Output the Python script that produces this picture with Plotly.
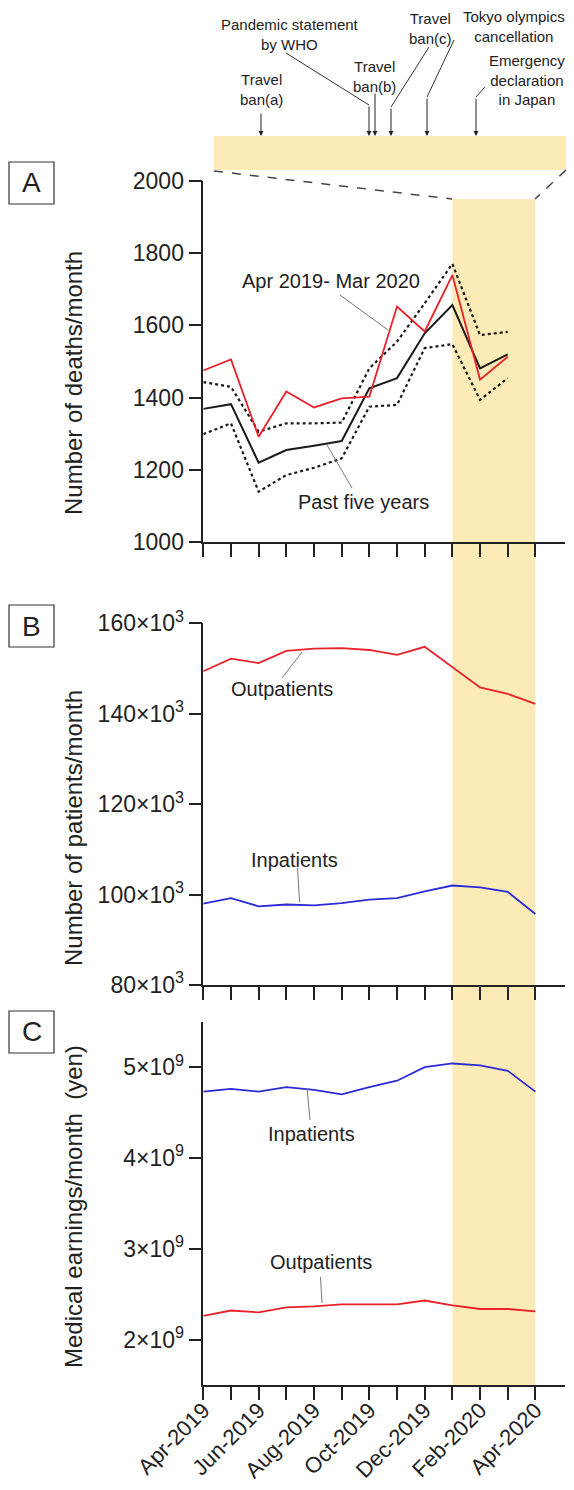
import plotly.graph_objects as go

# ---------------- data ----------------
months = ["Apr-2019", "May-2019", "Jun-2019", "Jul-2019", "Aug-2019", "Sep-2019",
          "Oct-2019", "Nov-2019", "Dec-2019", "Jan-2020", "Feb-2020", "Mar-2020", "Apr-2020"]
month_ticktext = [m if i % 2 == 0 else "" for i, m in enumerate(months)]
death_months = months[:12]

deaths_2019 = [1475, 1506, 1292, 1417, 1373, 1398, 1403, 1652, 1583, 1739, 1450, 1513]
past5_mean = [1369, 1382, 1220, 1255, 1267, 1280, 1426, 1454, 1578, 1656, 1481, 1520]
past5_upper = [1443, 1430, 1306, 1329, 1329, 1331, 1481, 1555, 1661, 1770, 1573, 1582]
past5_lower = [1299, 1329, 1140, 1186, 1206, 1232, 1375, 1380, 1537, 1548, 1394, 1454]

outpatients = [149.4e3, 152.2e3, 151.2e3, 153.9e3, 154.4e3, 154.5e3, 154.1e3,
               153.0e3, 154.8e3, 150.2e3, 145.8e3, 144.4e3, 142.2e3]
inpatients = [98.0e3, 99.2e3, 97.4e3, 97.8e3, 97.6e3, 98.1e3, 98.9e3,
              99.2e3, 100.7e3, 102.0e3, 101.6e3, 100.6e3, 95.7e3]

earn_in = [4.73e9, 4.76e9, 4.73e9, 4.78e9, 4.75e9, 4.70e9, 4.78e9,
           4.85e9, 5.00e9, 5.04e9, 5.02e9, 4.96e9, 4.73e9]
earn_out = [2.26e9, 2.32e9, 2.30e9, 2.355e9, 2.366e9, 2.388e9, 2.388e9,
            2.388e9, 2.43e9, 2.377e9, 2.337e9, 2.337e9, 2.311e9]

deaths_ticks = [1000, 1200, 1400, 1600, 1800, 2000]
pat_ticks = [80e3, 100e3, 120e3, 140e3, 160e3]
pat_ticktext = ["80×10<sup>3</sup>", "100×10<sup>3</sup>", "120×10<sup>3</sup>",
                "140×10<sup>3</sup>", "160×10<sup>3</sup>"]
earn_ticks = [2e9, 3e9, 4e9, 5e9]
earn_ticktext = ["2×10<sup>9</sup>", "3×10<sup>9</sup>", "4×10<sup>9</sup>", "5×10<sup>9</sup>"]

shade_start, shade_end = "Jan-2020", "Apr-2020"

# ---------------- layout helpers ----------------
PAGE_OFF = 8            # default body margin of the html page
W, H = 574 - 2 * PAGE_OFF, 1490 - 2 * PAGE_OFF
FONT = "Liberation Sans, Arial, Helvetica, sans-serif"
RED, BLUE, BLACK = "#E8212B", "#2B2BD6", "#1a1a1a"
YELLOW = "#FCEBB6"


def px(xp):
    return (xp - PAGE_OFF) / W


def py(yp):
    return 1 - (yp - PAGE_OFF) / H


xdom = [px(203.3), px(565)]
dom_a = [py(542.3), py(180.7)]
dom_b = [py(985), py(623.3)]
dom_c = [py(1385), py(1021.7)]

fig = go.Figure()

# Panel A
fig.add_trace(go.Scatter(x=death_months, y=past5_upper, mode="lines",
                         line=dict(color=BLACK, width=2.2, dash="dot"), xaxis="x", yaxis="y"))
fig.add_trace(go.Scatter(x=death_months, y=past5_lower, mode="lines",
                         line=dict(color=BLACK, width=2.2, dash="dot"), xaxis="x", yaxis="y"))
fig.add_trace(go.Scatter(x=death_months, y=past5_mean, mode="lines",
                         line=dict(color=BLACK, width=2), xaxis="x", yaxis="y"))
fig.add_trace(go.Scatter(x=death_months, y=deaths_2019, mode="lines",
                         line=dict(color=RED, width=1.8), xaxis="x", yaxis="y"))
# Panel B
fig.add_trace(go.Scatter(x=months, y=outpatients, mode="lines",
                         line=dict(color=RED, width=1.8), xaxis="x2", yaxis="y2"))
fig.add_trace(go.Scatter(x=months, y=inpatients, mode="lines",
                         line=dict(color=BLUE, width=1.8), xaxis="x2", yaxis="y2"))
# Panel C
fig.add_trace(go.Scatter(x=months, y=earn_in, mode="lines",
                         line=dict(color=BLUE, width=1.8), xaxis="x3", yaxis="y3"))
fig.add_trace(go.Scatter(x=months, y=earn_out, mode="lines",
                         line=dict(color=RED, width=1.8), xaxis="x3", yaxis="y3"))

axis_common = dict(showline=True, linecolor="#222", linewidth=1.5, ticks="outside",
                   ticklen=13, tickwidth=1.5, tickcolor="#222", showgrid=False,
                   zeroline=False, automargin=False,
                   tickfont=dict(family=FONT, size=23, color="#222"))

xcommon = dict(axis_common, type="category", categoryorder="array", categoryarray=months,
               tickmode="array", tickvals=months, range=[0, 13.07], domain=xdom)

fig.update_layout(
    template="none",
    width=W, height=H, margin=dict(l=0, r=0, t=0, b=0, pad=0, autoexpand=False),
    paper_bgcolor="white", plot_bgcolor="rgba(0,0,0,0)", showlegend=False,
    font=dict(family=FONT, color="#222"),
    xaxis=dict(xcommon, anchor="y", ticktext=[""] * 13),
    xaxis2=dict(xcommon, anchor="y2", ticktext=[""] * 13),
    xaxis3=dict(xcommon, anchor="y3", ticktext=month_ticktext, tickangle=-45,
                ticklabelstandoff=-11, tickfont=dict(family=FONT, size=22, color="#222")),
    yaxis=dict(axis_common, domain=dom_a, range=[1000, 2000], tickvals=deaths_ticks, anchor="x"),
    yaxis2=dict(axis_common, domain=dom_b, range=[80e3, 160e3], tickvals=pat_ticks,
                ticktext=pat_ticktext, anchor="x2"),
    yaxis3=dict(axis_common, domain=dom_c, range=[1.5e9, 5.5e9], tickvals=earn_ticks,
                ticktext=earn_ticktext, anchor="x3"),
)

shapes = []
# yellow band spanning all panels
shapes.append(dict(type="rect", xref="x3", yref="paper",
                   x0=months.index(shade_start), x1=months.index(shade_end),
                   y0=py(1385), y1=py(199), fillcolor=YELLOW, line=dict(width=0), layer="below"))
# timeline bar
shapes.append(dict(type="rect", xref="paper", yref="paper", x0=px(214), x1=px(566),
                   y0=py(170), y1=py(136), fillcolor=YELLOW, line=dict(width=0), layer="below"))
# dashed zoom lines
for (x0, y0, x1, y1) in [(214, 171, 452, 199), (566, 170, 535, 199)]:
    shapes.append(dict(type="line", xref="paper", yref="paper", x0=px(x0), y0=py(y0),
                       x1=px(x1), y1=py(y1), line=dict(color="#444", width=1.5, dash="dash")))
# leader lines (gray)
for (x0, y0, x1, y1) in [(340, 295, 388, 330), (327, 445, 352, 488),
                         (282, 678, 302, 652), (297.5, 868, 299.6, 902),
                         (310, 1120, 307, 1088), (320.5, 1277, 322, 1303)]:
    shapes.append(dict(type="line", xref="paper", yref="paper", x0=px(x0), y0=py(y0),
                       x1=px(x1), y1=py(y1), line=dict(color="#777", width=1)))
# timeline leader lines (dark)
for (x0, y0, x1, y1) in [(286, 53, 369, 105), (429, 47, 391, 107),
                         (454, 40, 427, 97), (485, 87, 476, 97)]:
    shapes.append(dict(type="line", xref="paper", yref="paper", x0=px(x0), y0=py(y0),
                       x1=px(x1), y1=py(y1), line=dict(color="#333", width=1)))
# panel letter boxes
for (y0, y1) in [(162, 204), (605, 647), (1011, 1053)]:
    shapes.append(dict(type="rect", xref="paper", yref="paper", x0=px(9), x1=px(54),
                       y0=py(y1), y1=py(y0), line=dict(color="#333", width=1.2),
                       fillcolor="white"))
fig.update_layout(shapes=shapes)

ann = []


def text(x, y, s, size, **kw):
    ann.append(dict(x=px(x), y=py(y), xref="paper", yref="paper", text=s, showarrow=False,
                    font=dict(family=FONT, size=size, color="#222"),
                    xanchor="center", yanchor="middle", **kw))


# panel letters
text(31.5, 183, "A", 28)
text(31.5, 626, "B", 28)
text(31.5, 1032, "C", 28)
# axis titles
text(73, 383, "Number of deaths/month", 24, textangle=-90)
text(73, 828, "Number of patients/month", 24, textangle=-90)
text(73, 1207, "Medical earnings/month  (yen)", 24, textangle=-90)
# in-plot labels
text(331, 281, "Apr 2019- Mar 2020", 20)
text(363, 502, "Past five years", 20)
text(282, 689, "Outpatients", 20)
text(294, 860, "Inpatients", 20)
text(311, 1134, "Inpatients", 20)
text(321, 1262, "Outpatients", 20)
# timeline texts
text(261, 89, "Travel<br>ban(a)", 15)
text(290, 35, "Pandemic statement<br>by WHO", 15)
text(374, 76, "Travel<br>ban(b)", 15)
text(430, 29, "Travel<br>ban(c)", 15)
text(514, 26, "Tokyo olympics<br>cancellation", 15)
text(527, 80, "Emergency<br>declaration<br>in Japan", 15)
# timeline arrows
for (x, ytail) in [(261, 112), (369, 105), (375, 92), (391, 107), (427, 97), (476, 97)]:
    ann.append(dict(x=px(x), y=py(136), xref="paper", yref="paper", text="",
                    showarrow=True, ax=0, ay=-(136 - ytail), arrowhead=2, arrowsize=1,
                    arrowwidth=1, arrowcolor="#222", standoff=0))
fig.update_layout(annotations=ann)

fig.write_html("out.html")
